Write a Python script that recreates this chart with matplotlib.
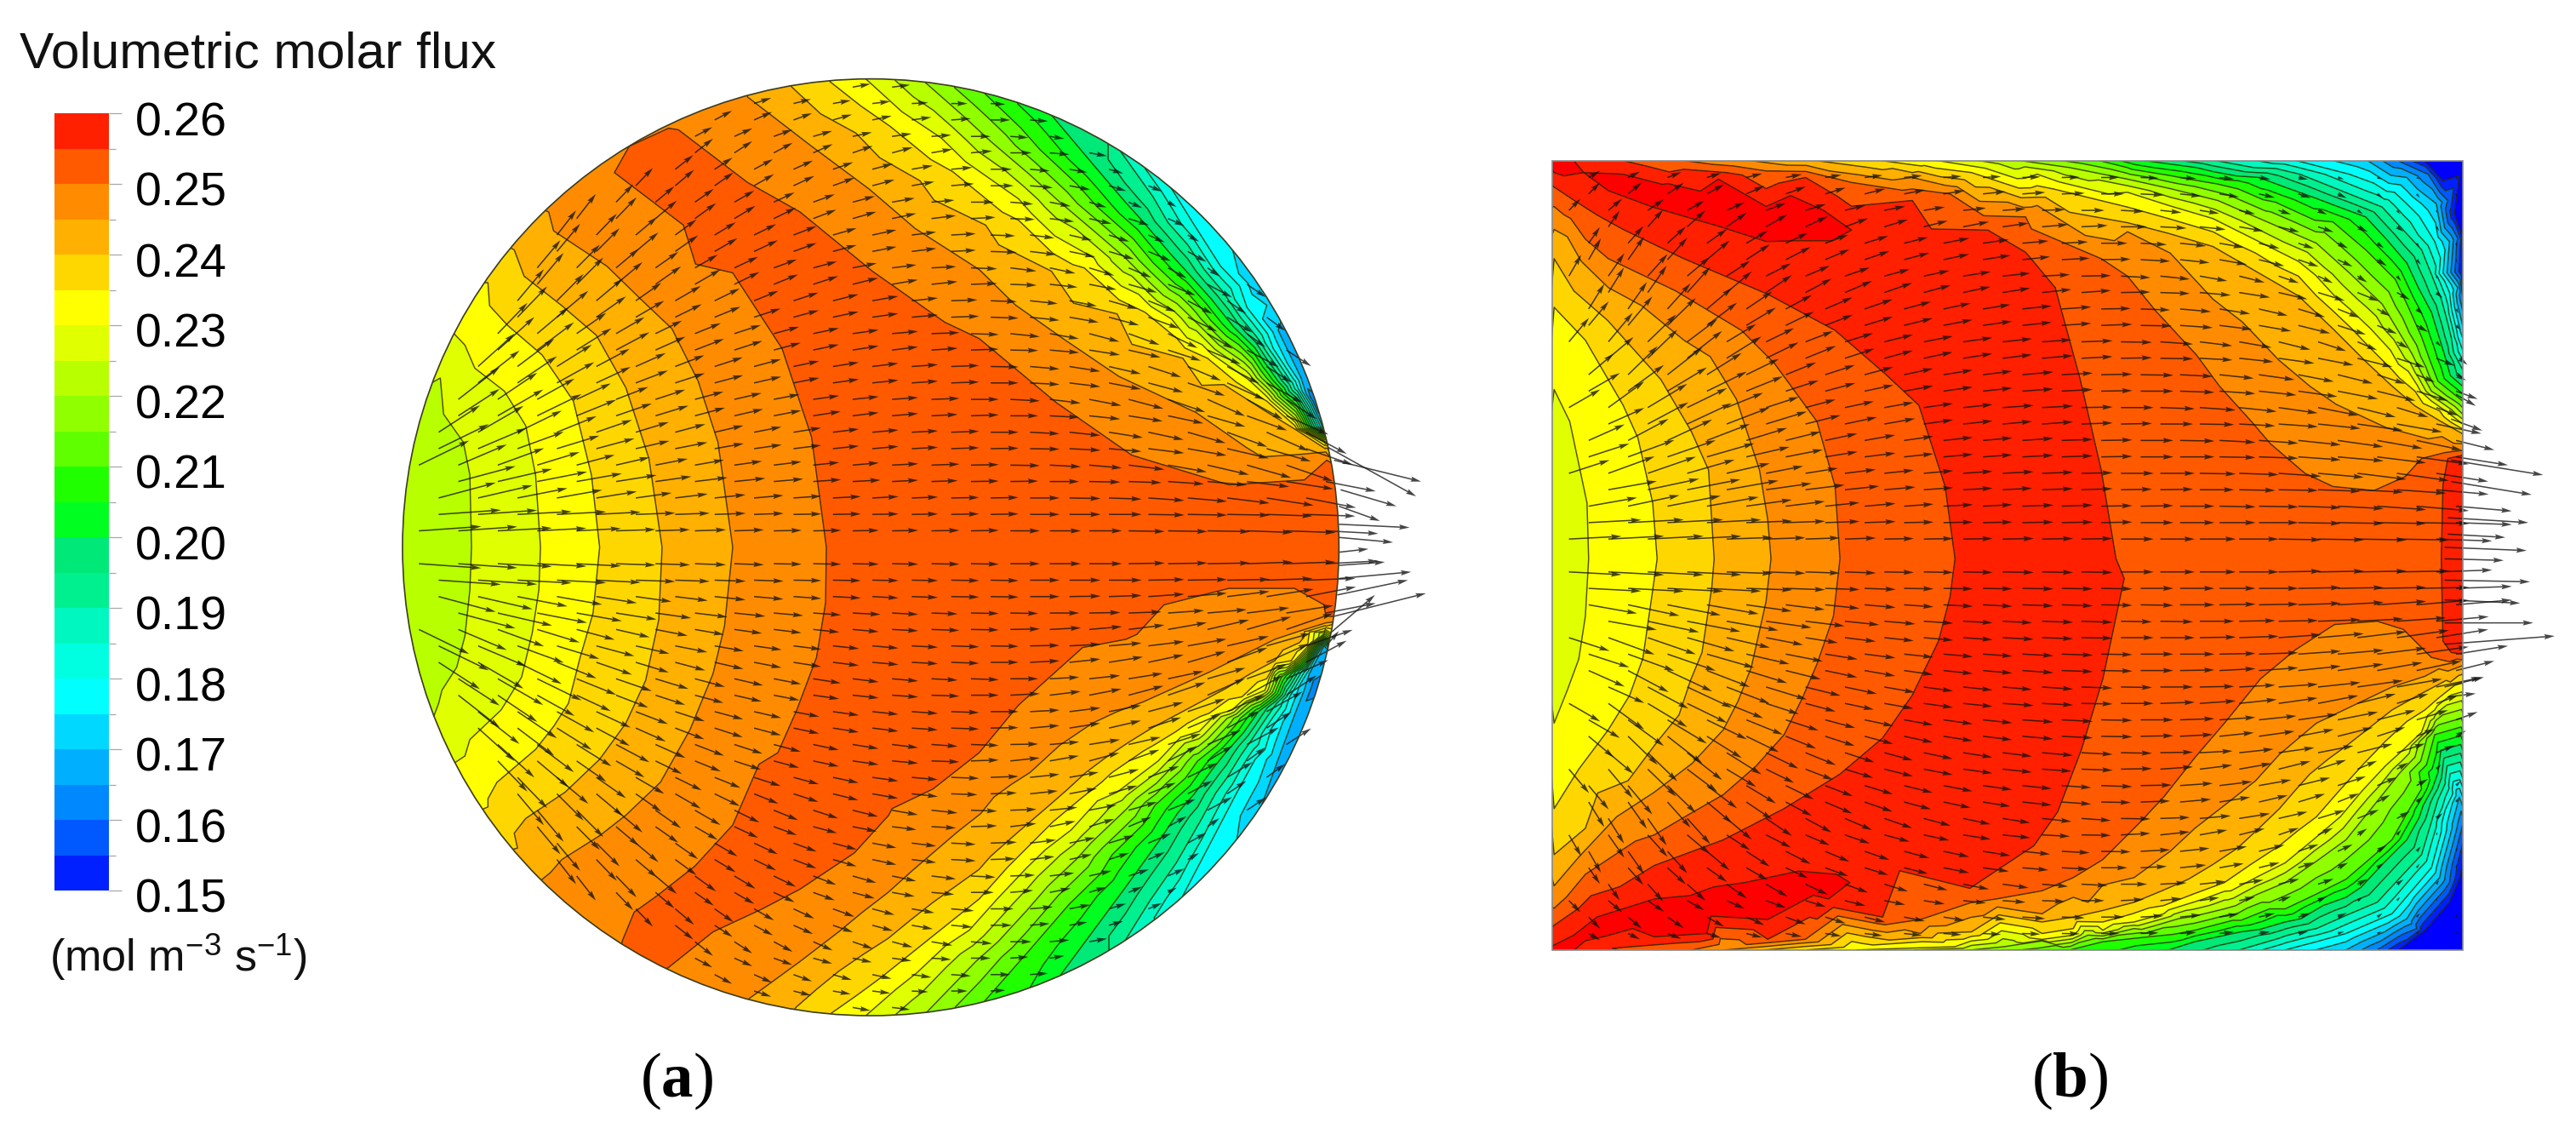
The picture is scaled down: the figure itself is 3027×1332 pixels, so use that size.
import numpy as np
import matplotlib as mpl
mpl.use('Agg')
mpl.rcParams['font.family'] = ['Liberation Sans', 'DejaVu Sans']
mpl.rcParams['mathtext.fontset'] = 'custom'
mpl.rcParams['mathtext.bf'] = 'Liberation Serif:bold'
mpl.rcParams['mathtext.rm'] = 'Liberation Sans'
mpl.rcParams['mathtext.default'] = 'regular'
import matplotlib.pyplot as plt
import matplotlib.tri as mtri
import matplotlib.transforms as mtrans
from matplotlib.colors import ListedColormap
from matplotlib.patches import Circle, Rectangle

# band edges and colours
BAND_EDGES = [0.15, 0.155, 0.16, 0.165, 0.17, 0.175, 0.18, 0.185, 0.19, 0.195, 0.20, 0.205,
              0.21, 0.215, 0.22, 0.225, 0.23, 0.235, 0.24, 0.245, 0.25, 0.255, 0.26]
BAND_COLORS = ['#0020ff', '#0058ff', '#0088ff', '#00b0ff', '#00d8ff', '#00ffff', '#00ffe0', '#00f8c0',
               '#00f090', '#00e878', '#00ff20', '#20ff00', '#60ff00', '#90ff00', '#b8ff00', '#e0ff00',
               '#ffff00', '#ffd700', '#ffb000', '#ff8c00', '#ff5a00', '#ff2000']
LOW_COLOR = '#0000ff'
HIGH_COLOR = '#ff0000'
TICK_VALUES = [0.15, 0.16, 0.17, 0.18, 0.19, 0.20, 0.21, 0.22, 0.23, 0.24, 0.25, 0.26]

# panel (a): flux, (x, y) in picture units
A16 = [(800, 243), (802, 418)]
A17 = [(765, 171), (778, 201), (792, 230), (805, 259.5), (768, 490), (778, 462), (788, 435), (797, 410), (806, 393)]
A18 = [(712, 113), (727, 137), (743, 162), (759, 187), (775, 212), (790, 236), (806, 261.5), (720, 545), (731, 524),
       (742, 503), (753, 482), (764, 462), (774, 443), (785, 424), (795, 408), (806, 391.5)]
A19 = [(682, 92), (702, 120), (723, 149), (744, 177), (765, 205), (785, 234), (806, 263), (685, 572), (700, 548),
       (716, 525), (731, 499), (747, 473), (762, 450), (777, 428), (791, 408), (806, 390)]
A20 = [(640, 70), (667, 102), (695, 134), (723, 166), (751, 199), (778, 232), (806, 264.5), (645, 594), (665, 567),
       (685, 540), (706, 511), (727, 483), (746, 458), (766, 433), (786, 410), (806, 388.5)]
A21 = [(599, 56.5), (633, 91), (668, 126), (702, 160), (737, 195), (771, 230), (806, 266), (599, 609.5), (625, 580),
       (651, 550), (677, 520), (703, 490), (729, 463), (755, 437), (780, 412), (806, 387)]
A22 = [(563, 50), (603, 86), (644, 122), (685, 157), (725, 193), (765, 230), (806, 267.5), (564, 616), (594, 585),
       (625, 554), (655, 523), (686, 492), (716, 464), (747, 437), (776, 411), (806, 385.5)]
A225 = [(287, 333), (286, 289), (282, 269), (270, 252), (268, 230), (286, 359), (283, 387), (278, 406), (269, 420),
        (267, 428), (264, 436)]
A23 = [(329, 333), (326, 289), (320, 259), (307, 238), (289, 224), (283, 210), (283, 194), (328, 359), (324, 385),
       (317.5, 412), (305, 432), (286, 450), (283, 460), (285, 476), (527, 48), (573, 84), (620, 121), (666, 157),
       (713, 194), (760, 231), (806, 269), (527, 618), (558, 592), (590, 566), (607, 547), (625, 528), (652, 505),
       (680, 482), (705, 463), (730, 445), (750, 432), (770, 420), (788, 402), (806, 384)]
A235 = [(365, 333), (360, 289), (349, 244), (330, 216), (309, 198), (298, 186), (297, 172), (361, 373), (353, 400.5),
        (346, 428), (337, 442), (326, 456), (302.5, 476), (297, 486), (297, 491), (505, 49.5), (542, 77), (580, 104.5),
        (620, 134), (660, 163), (697, 190), (735, 218), (771, 244), (807, 271), (506, 616.5), (521, 606), (536, 595),
        (551, 583), (566, 571), (581, 559), (596, 547), (605, 537), (613, 528), (627, 514), (641, 500), (659, 485),
        (677, 470), (696, 457), (716, 445), (736, 434), (756, 424), (771, 413), (786, 402), (796, 392), (807, 382)]
A24 = [(403, 333), (395, 279), (381, 236), (363, 204), (342, 186), (319, 168), (313, 152), (401, 377), (393, 414),
       (381, 440), (365, 462), (344, 482), (320, 498), (313, 507), (315, 516), (482, 53), (521, 81), (560, 110),
       (600, 137), (640, 165), (680, 191), (720, 218), (745, 234), (770, 250), (788, 261), (807, 272.5), (485, 612.5),
       (497, 602), (510.5, 591), (525, 581), (540.6, 571), (554, 560), (568, 549), (582, 539), (596, 529), (603, 521),
       (620, 506), (637, 491.5), (649, 481), (661, 470), (673, 461), (686.5, 452), (701, 443), (716, 435), (731, 427),
       (746, 419), (761, 410), (776, 402), (791, 391), (807, 381)]
A245 = [(446, 333), (437, 269), (425, 232), (409, 200), (390, 182), (369.5, 162), (337, 140.5), (334, 129), (455, 59),
        (494, 89), (529, 115), (557, 139), (596, 164), (647, 206), (681, 229), (728, 251), (807, 275), (441, 381),
        (434, 410), (420, 444), (402, 476), (381, 496), (365, 508.5), (342, 523), (335, 531), (335, 537), (456, 607.6),
        (487, 585), (510.5, 567), (525, 555), (540.6, 543), (555, 530), (569, 518), (583, 506), (597, 495), (605, 485),
        (616, 477), (627, 470), (645, 453.5), (665, 440), (680, 433), (696, 427), (716, 418), (736, 409), (756, 399),
        (776, 389), (791, 384), (807, 379)]
A25 = [(503, 333), (494, 266), (476, 212), (446, 166), (416, 137), (374, 105), (383, 89), (407, 78), (413, 79),
       (455, 111), (487, 129), (531, 165), (575, 196), (596, 206), (643, 245), (689, 277), (748, 295), (794, 292),
       (805.7, 288.7), (807.6, 280), (502.5, 367), (497, 400), (485, 432), (473.5, 458), (462, 465), (464, 480),
       (446, 502), (423, 527), (400, 545), (386, 555), (379, 572), (406.5, 589), (434, 567), (464, 553), (487, 541),
       (520, 519), (541, 496), (543, 492), (568, 480), (596, 458), (620, 429), (659, 394), (708.5, 368), (748, 358),
       (788, 358), (806, 368), (807, 375)]
A2525 = [(530, 333), (580, 333), (650, 333), (720, 333), (790, 333), (540, 260), (600, 280), (680, 300), (760, 318),
         (540, 400), (600, 390), (680, 370), (760, 345), (480, 200), (440, 150), (410, 110), (500, 450), (450, 520),
         (420, 560), (520, 300), (520, 370), (825, 333)]
A2235 = [(265, 333)]
A_FIELD = {0.16: A16, 0.17: A17, 0.18: A18, 0.19: A19, 0.20: A20, 0.21: A21, 0.22: A22, 0.225: A225, 0.23: A23,
           0.235: A235, 0.24: A24, 0.245: A245, 0.25: A25, 0.2525: A2525, 0.2235: A2235}
# flux just outside the rim
A_RIM_ANGLE = [0, 8, 12, 15, 30, 45, 60, 75, 90, 105, 120, 135, 150, 165, 180, 195, 210, 225, 240, 255, 270, 285,
               300, 315, 330, 345, 348, 352]
A_RIM_VALUE = [0.252, 0.251, 0.22, 0.16, 0.168, 0.176, 0.192, 0.208, 0.23, 0.245, 0.2495, 0.245, 0.232, 0.2232,
               0.2225, 0.2225, 0.232, 0.245, 0.2505, 0.245, 0.2285, 0.208, 0.193, 0.178, 0.168, 0.158, 0.22, 0.251]

# panel (b): same kind of reading
B15 = [(1475, 97), (1487, 110), (1494, 130), (1499, 165), (1499, 525), (1491, 549), (1476, 566), (1460, 578)]
B16 = [(1458, 97), (1478, 106), (1490, 122), (1496, 145), (1499, 180), (1499, 502), (1491, 537), (1471, 565), (1447, 578)]
B17 = [(1440, 97), (1465, 108), (1483, 124), (1491, 147), (1496, 175), (1499, 198), (1497, 485), (1485, 534),
       (1465, 559), (1428, 578)]
B18 = [(1395, 97), (1430, 106), (1465, 124), (1482, 147), (1491, 178), (1496, 205), (1499, 213), (1493, 483),
       (1486, 506), (1480, 528), (1468, 542), (1456, 556), (1442, 562), (1428, 568), (1410, 573), (1391, 578)]
B19 = [(1345, 97), (1372, 102), (1400, 106), (1425, 116), (1450, 126), (1462, 139), (1474, 152), (1480, 167),
       (1486, 182), (1489, 193), (1492, 205), (1499, 225), (1487, 480), (1480, 500), (1474, 520), (1460, 535),
       (1447, 549), (1428, 557), (1410, 565), (1387, 571), (1363, 578)]
B20 = [(1300, 97), (1337, 102), (1375, 108), (1408, 120), (1440, 132), (1453, 146), (1465, 160), (1472, 175),
       (1480, 190), (1484, 203), (1488, 216), (1499, 235), (1484, 470), (1475, 490), (1465, 511), (1451, 525),
       (1437, 540), (1414, 551), (1391, 561), (1364, 567), (1336, 573), (1320, 578)]
B21 = [(1275, 97), (1295, 102), (1322, 107), (1350, 112), (1385, 123), (1420, 135), (1440, 152), (1458, 170),
       (1466, 187), (1474, 205), (1479, 219), (1484, 232), (1499, 244), (1482, 447), (1474, 480), (1465, 495),
       (1456, 511), (1442, 523), (1428, 535), (1410, 544), (1391, 553), (1364, 560), (1336, 566), (1308, 570),
       (1280, 573), (1260, 578)]
B22 = [(1225, 97), (1260, 102), (1295, 109), (1322, 115), (1350, 122), (1380, 135), (1410, 148), (1430, 166),
       (1450, 185), (1459, 200), (1468, 215), (1474, 227), (1480, 238), (1499, 252), (1481, 442), (1461, 470),
       (1445, 490), (1428, 511), (1410, 524), (1391, 537), (1372, 545), (1354, 553), (1326, 559), (1299, 565),
       (1271, 569), (1243, 572.5), (1220, 576), (1200, 578)]
B23 = [(967, 340), (966, 306), (955.5, 256.5), (946, 237), (965, 375), (961, 401), (954, 420), (946, 440), (1175, 97),
       (1240, 106), (1295, 117), (1320, 125), (1347, 133), (1373, 146), (1399, 159), (1421, 180), (1443, 200),
       (1455, 213), (1466, 226), (1480, 244), (1490, 251), (1499, 258), (1482, 432), (1474, 445.5), (1463, 456),
       (1452, 466), (1438, 481), (1424.5, 497), (1408, 511), (1391, 525), (1375, 533), (1358, 542), (1335, 549),
       (1317, 556), (1299, 561), (1280, 566), (1262, 569), (1243, 571.6), (1190, 576), (1130, 578)]
B235 = [(1008.7, 340), (1006, 306), (997, 266.5), (988, 246.6), (965, 207), (946, 187), (1005, 366), (1000, 400.6),
        (992, 423), (979, 444), (961, 468), (946, 492), (1140, 97), (1200, 105), (1250, 115), (1295, 126), (1320, 133),
        (1347, 141), (1373, 154), (1399, 168), (1421, 190), (1443, 212), (1456, 225), (1470, 238), (1485, 250),
        (1499, 261), (1484, 425), (1476, 432), (1465, 439), (1452, 451), (1439, 464.5), (1424, 481), (1410, 497),
        (1398, 506), (1387.5, 514.6), (1370, 526), (1354, 537), (1335, 544), (1317, 551), (1298, 556), (1280, 561),
        (1262, 565), (1243, 568), (1170, 573), (1100, 578)]
B24 = [(1043.4, 340), (1040, 286), (1029.5, 262.5), (1011, 231), (978.6, 195), (958, 177), (946, 157.4), (1042, 357),
       (1036, 397), (1029, 414), (1022, 435), (1009, 451), (991, 475), (965, 504), (946, 520), (1100, 97), (1164, 105),
       (1240, 120), (1295, 135.5), (1320, 142), (1347, 150), (1373, 165), (1399, 180), (1420, 200), (1440, 220),
       (1455, 234), (1470, 247), (1485, 256), (1499, 264), (1489, 414), (1472, 423), (1456, 432), (1442, 443),
       (1428, 454), (1417, 462), (1406, 471), (1397, 481), (1387.5, 492), (1375, 504), (1362, 516), (1347, 526),
       (1332, 535), (1316, 542), (1299, 549), (1280, 554), (1262, 558), (1243, 561), (1200, 567), (1150, 572),
       (1075, 578)]
B245 = [(1078, 340), (1076, 316), (1071, 286), (1057, 243), (1041, 217), (1025, 207), (979, 175), (962.5, 159),
        (954, 144), (946, 139.6), (1075, 366), (1066, 406), (1058, 426.5), (1049, 444), (1030, 464.5), (1007, 482),
        (984, 497), (961, 521.5), (946, 539), (1060, 97), (1164, 108), (1240, 125), (1295, 141), (1321, 154),
        (1347, 182), (1365, 196), (1387, 219), (1406, 235), (1422, 246), (1452, 260), (1478, 267), (1499, 270),
        (1499, 405), (1456, 418), (1410, 440), (1387.5, 459), (1373, 475), (1354, 490), (1336, 504), (1321, 518),
        (1299, 534), (1271, 549), (1243, 556), (1169, 568), (1050, 578)]
B25 = [(1120, 340), (1117, 296), (1106, 256.5), (1080, 221), (1060, 201), (1020, 177), (979, 157.4), (965, 145.5),
       (946, 125.7), (1116, 375), (1106, 404), (1097, 425), (1086, 447), (1069, 466), (1049, 483.5), (1025.5, 497),
       (1007, 508), (965, 532), (946, 552.6), (1020, 97), (1075, 104), (1127, 111), (1187, 118), (1233, 132),
       (1279, 157.4), (1295, 168), (1312, 189), (1337, 216), (1351, 235), (1370, 256), (1382, 270), (1403, 288),
       (1420, 296), (1445, 298.5), (1464, 290), (1474, 279), (1488, 275.4), (1499, 274), (1499, 401.5), (1480, 400),
       (1463, 383), (1447, 378), (1421, 380), (1397, 395.5), (1376, 413), (1354, 440), (1336, 461), (1317, 485),
       (1302, 501), (1280, 523), (1262, 534), (1243, 542), (1215, 547), (1169, 559.5), (1099, 571.5), (1030, 578)]
B2525 = [(1350, 340), (1420, 340), (1470, 340), (1340, 290), (1400, 325), (1330, 400), (1400, 355), (1300, 340)]
B255 = [(1190, 340), (1184, 296), (1168, 246.6), (1147, 227), (1117, 201), (1076, 179), (1025, 157.4), (988, 139.6),
        (958, 121.8), (946, 113.8), (1187, 363), (1180, 390), (1164, 423), (1146, 449), (1120, 471), (1086, 492),
        (1049, 511), (1007, 526.6), (961, 552.6), (946, 563), (985, 97), (1025, 103), (1099, 108), (1164, 122),
        (1210, 140), (1233, 153.5), (1251, 175), (1266, 230), (1279, 286), (1288, 340), (1293, 352), (1280, 413),
        (1267, 456), (1252.5, 494), (1238, 514.6), (1199, 540.5), (1146, 558), (1076, 571.5), (981.5, 577),
        (1499, 277), (1490, 279), (1487, 295), (1486, 340), (1487, 390), (1492, 397), (1499, 398)]
B2575 = [(1240, 340), (1240, 250), (1200, 200), (1240, 420), (1180, 480), (1140, 170), (1100, 500), (1220, 300),
         (1220, 380), (1200, 450), (1150, 515), (1170, 150), (1493, 340), (1502, 340)]
B26 = [(959, 99), (964, 105), (988, 106), (1046, 109), (1090, 119), (1110, 128), (1127, 140), (1115, 146.5),
       (1092, 146.5), (1046, 137.6), (1006, 126), (979, 116), (952, 107), (946, 105), (958, 569), (972, 558),
       (1007, 547), (1062, 537), (1095, 530), (1118, 532), (1126, 537), (1113, 547), (1076, 559.5), (1039, 568),
       (1007, 570), (965, 572.4)]
B2625 = [(1040, 123), (1075, 131), (1105, 136), (1010, 116), (980, 110), (1040, 554), (1000, 559), (1075, 546),
         (1105, 538), (975, 566), (940, 92), (940, 584)]
B14 = [(1504, 92), (1504, 584), (1504, 150), (1504, 530)]
B2265 = [(945, 340), (945, 300), (945, 380), (938, 340)]
B_FIELD = {0.14: B14, 0.15: B15, 0.16: B16, 0.17: B17, 0.18: B18, 0.19: B19, 0.20: B20, 0.21: B21, 0.22: B22,
           0.2265: B2265, 0.23: B23, 0.235: B235, 0.24: B24, 0.245: B245, 0.25: B25, 0.2525: B2525, 0.255: B255,
           0.2575: B2575, 0.26: B26, 0.2625: B2625}

# arrow angle (deg, up is positive) and length on rows above the mid line, lower half is the mirror
A_ANGLE = [
    [4, 4, 3, 3, 3, 2, 2, 2, 2, 1, 1, 1, 1, 1, 1, 0, 0, 0, -1, -1, -1, -2, -2, -3],
    [15, 13, 11, 10, 9, 8, 7, 6, 5, 4, 3, 3, 2, 1, 1, 0, -1, -2, -4, -5, -7, -9, -11, -14],
    [26, 23, 20, 17, 15, 13, 11, 10, 8, 7, 6, 5, 3, 2, 1, -1, -3, -5, -7, -10, -13, -16, -19, -23],
    [33, 30, 26, 22, 19, 17, 15, 13, 11, 9, 7, 5, 3, 2, 0, -3, -6, -9, -12, -16, -20, -24, -28, -34],
    [0, 38, 34, 29, 25, 21, 18, 15, 13, 11, 8, 6, 4, 2, 0, -3, -7, -11, -15, -19, -24, -29, -33, -38],
    [0, 42, 37, 32, 28, 24, 21, 18, 15, 12, 9, 7, 4, 2, -1, -5, -9, -13, -18, -23, -28, -33, -38, 0],
    [0, 0, 46, 40, 35, 30, 26, 22, 18, 15, 12, 8, 5, 2, -2, -6, -10, -15, -20, -26, -31, -36, -40, 0],
    [0, 0, 50, 45, 40, 35, 30, 26, 22, 18, 14, 10, 6, 2, -2, -6, -11, -16, -22, -28, -34, -39, 0, 0],
    [0, 0, 0, 50, 45, 40, 35, 30, 25, 20, 15, 11, 7, 3, -2, -7, -12, -17, -23, -29, -35, -40, 0, 0],
    [0, 0, 0, 52, 46, 40, 36, 31, 26, 21, 16, 12, 7, 3, -2, -7, -13, -18, -24, -30, -35, -40, 0, 0],
    [0, 0, 0, 0, 0, 46, 40, 35, 30, 25, 20, 15, 10, 5, 0, -5, -11, -17, -23, -29, -36, 0, 0, 0],
    [0, 0, 0, 0, 0, 0, 38, 33, 28, 24, 19, 15, 10, 5, 0, -5, -10, -16, -22, -28, -34, 0, 0, 0],
    [0, 0, 0, 0, 0, 0, 33, 28, 24, 20, 16, 12, 8, 4, 0, -4, -9, -14, -20, 0, 0, 0, 0, 0],
    [0, 0, 0, 0, 0, 0, 0, 0, 18, 14, 10, 7, 3, 0, -3, -8, 0, 0, 0, 0, 0, 0, 0, 0]]
A_LENGTH = [
    [38, 36, 33, 30, 27, 24, 21, 19, 18, 17, 17, 16, 16, 17, 17, 18, 19, 20, 22, 24, 26, 28, 30, 32],
    [36, 34, 31, 28, 25, 22, 20, 19, 18, 17, 17, 16, 16, 17, 17, 18, 19, 20, 22, 24, 26, 29, 31, 33],
    [34, 32, 30, 27, 24, 21, 20, 18, 17, 17, 16, 16, 16, 17, 17, 18, 19, 20, 22, 24, 26, 28, 30, 30],
    [30, 32, 30, 26, 23, 21, 19, 18, 17, 17, 16, 16, 16, 17, 17, 18, 19, 21, 22, 24, 26, 28, 28, 20],
    [0, 32, 29, 26, 23, 21, 19, 18, 17, 16, 16, 16, 16, 17, 17, 18, 19, 20, 22, 24, 25, 25, 22, 12],
    [0, 30, 28, 25, 23, 20, 19, 18, 17, 16, 16, 16, 16, 17, 17, 18, 19, 20, 21, 22, 22, 18, 10, 0],
    [0, 0, 26, 25, 22, 20, 18, 17, 17, 16, 16, 16, 16, 17, 17, 18, 18, 19, 20, 20, 18, 14, 8, 0],
    [0, 0, 25, 23, 21, 19, 18, 17, 16, 16, 16, 16, 16, 16, 16, 17, 17, 18, 18, 17, 14, 8, 0, 0],
    [0, 0, 0, 22, 20, 18, 17, 16, 16, 15, 15, 15, 15, 15, 16, 16, 16, 16, 15, 13, 9, 5, 0, 0],
    [0, 0, 0, 19, 18, 17, 16, 15, 15, 15, 15, 15, 15, 15, 15, 15, 14, 13, 11, 8, 5, 0, 0, 0],
    [0, 0, 0, 0, 0, 15, 15, 14, 14, 14, 14, 14, 14, 14, 14, 14, 13, 11, 9, 6, 0, 0, 0, 0],
    [0, 0, 0, 0, 0, 0, 14, 13, 13, 13, 13, 13, 13, 13, 13, 12, 11, 9, 7, 5, 0, 0, 0, 0],
    [0, 0, 0, 0, 0, 0, 12, 12, 12, 12, 12, 12, 12, 12, 12, 11, 9, 8, 6, 0, 0, 0, 0, 0],
    [0, 0, 0, 0, 0, 0, 0, 0, 11, 11, 11, 11, 10, 10, 9, 7, 0, 0, 0, 0, 0, 0, 0, 0]]
B_ANGLE = [
    [3, 3, 3, 3, 2, 2, 2, 2, 1, 1, 1, 1, 1, 1, 0, 0, 0, 0, -1, -1, -1, -1, -2],
    [10, 12, 11, 10, 8, 7, 6, 5, 4, 3, 3, 2, 2, 1, 1, 0, -1, -1, -2, -3, -4, -5, -5],
    [18, 20, 19, 16, 13, 11, 9, 7, 6, 5, 4, 3, 2, 1, 0, 0, -1, -2, -4, -5, -7, -8, -9],
    [24, 28, 25, 21, 17, 14, 12, 10, 8, 6, 5, 4, 2, 1, 0, -1, -3, -4, -6, -8, -10, -12, -14],
    [30, 36, 31, 26, 22, 18, 15, 12, 10, 8, 6, 4, 3, 1, 0, -2, -4, -6, -8, -11, -14, -17, -20],
    [40, 44, 38, 32, 26, 22, 18, 15, 12, 9, 7, 5, 3, 1, -1, -3, -6, -8, -11, -14, -18, -22, -30],
    [50, 50, 44, 37, 31, 26, 21, 17, 14, 11, 8, 6, 4, 2, -1, -4, -7, -10, -14, -18, -23, -30, -45],
    [58, 55, 48, 40, 34, 28, 23, 19, 15, 12, 9, 6, 4, 1, -2, -5, -9, -13, -17, -22, -29, -40, -60],
    [60, 55, 48, 40, 33, 27, 23, 19, 15, 12, 9, 6, 3, 1, -3, -6, -10, -14, -19, -25, -33, -50, -70],
    [55, 48, 42, 35, 30, 25, 20, 17, 14, 11, 8, 5, 3, 0, -3, -6, -10, -14, -19, -26, -36, -55, -75],
    [45, 40, 34, 29, 24, 20, 17, 14, 11, 9, 6, 4, 2, 0, -3, -6, -9, -13, -18, -25, -35, -50, -70],
    [30, 26, 21, 17, 14, 11, 9, 7, 6, 4, 3, 2, 1, 0, -2, -4, -6, -9, -12, -16, -22, -30, -50]]
B_LENGTH = [
    [32, 34, 34, 33, 28, 24, 21, 19, 18, 18, 18, 19, 19, 19, 20, 21, 22, 24, 26, 28, 30, 32, 34],
    [30, 32, 33, 32, 28, 24, 21, 19, 18, 18, 18, 19, 19, 19, 20, 21, 22, 24, 26, 28, 30, 32, 34],
    [26, 30, 31, 30, 27, 23, 20, 19, 18, 18, 18, 19, 19, 19, 20, 21, 22, 24, 26, 28, 30, 32, 32],
    [24, 28, 30, 28, 26, 22, 20, 19, 18, 18, 18, 19, 19, 19, 20, 21, 22, 24, 26, 28, 28, 28, 24],
    [22, 27, 28, 27, 24, 21, 19, 18, 18, 18, 18, 19, 19, 19, 20, 21, 22, 23, 24, 25, 24, 20, 14],
    [20, 25, 27, 25, 22, 20, 19, 18, 18, 18, 18, 19, 19, 19, 20, 20, 21, 22, 22, 22, 18, 12, 7],
    [19, 23, 24, 23, 21, 19, 18, 18, 18, 18, 18, 18, 18, 19, 19, 20, 20, 20, 20, 18, 13, 8, 4],
    [18, 20, 21, 20, 19, 18, 18, 18, 17, 17, 17, 18, 18, 18, 18, 19, 19, 18, 17, 14, 9, 5, 3],
    [15, 17, 18, 18, 17, 17, 16, 16, 16, 16, 17, 17, 17, 18, 18, 18, 17, 16, 13, 10, 7, 4, 2],
    [12, 14, 15, 15, 15, 15, 15, 15, 15, 16, 16, 16, 16, 16, 16, 16, 15, 13, 10, 7, 5, 3, 2],
    [10, 11, 12, 12, 12, 13, 13, 13, 13, 13, 14, 14, 14, 14, 14, 13, 12, 10, 8, 6, 4, 3, 2],
    [8, 8, 9, 9, 10, 10, 10, 11, 11, 11, 11, 11, 11, 11, 11, 10, 9, 7, 6, 4, 3, 2, 2]]

# arrows leaving through the outlet: tail x, tail y, dx, dy
OUT_A_X = [812, 808, 816, 815, 815, 815, 815, 815, 815, 814, 812, 810, 808]
OUT_A_Y = [280, 272, 298, 308, 319, 327, 336, 344, 352, 362, 375, 385, 392]
OUT_A_U = [53, 54, 34, 25, 43, 33, 18, 28, 44, 43, 56, 27, 7]
OUT_A_V = [13, 30, 10, 9, 2, 3, -2, -2, -4, -9, -14, -23, -8]
OUT_B_X = [1492, 1492, 1490, 1490, 1488, 1488, 1488, 1488, 1488, 1488, 1488, 1490, 1492, 1495, 1497]
OUT_B_Y = [280, 293, 315, 325, 333, 340, 353, 365, 379, 392, 418, 424, 255, 240, 218]
OUT_B_U = [56, 49, 49, 35, 50, 36, 52, 46, 54, 67, 24, 17, 19, 12, 5]
OUT_B_V = [9, 8, 3, 2, 2, 1, 1, 2, 0, -5, -6, -2, 7, 7, 4]


def flatten(field):
    xs, ys, vs = [], [], []
    for val in field:
        for p in field[val]:
            xs.append(p[0])
            ys.append(p[1])
            vs.append(val)
    return xs, ys, vs


def grid_arrows(angle, length, x0, step_x, y_mid, y_first, step_y):
    angle = np.array(angle, dtype=float)
    length = np.array(length, dtype=float)
    rows, cols = angle.shape
    X = np.zeros((rows, cols))
    Y = np.zeros((rows, cols))
    for k in range(rows):
        X[k] = x0 + step_x*np.arange(cols) + (step_x/2. if k % 2 else 0.)
        Y[k] = y_first + step_y*k
    U = length*np.cos(np.radians(angle))
    V = length*np.sin(np.radians(angle))
    # upper half and its mirror, y picture axis points down
    X = np.concatenate([X.ravel(), X.ravel()])
    Y2 = np.concatenate([y_mid - Y.ravel(), y_mid + Y.ravel()])
    U = np.concatenate([U.ravel(), U.ravel()])
    V = np.concatenate([-V.ravel(), V.ravel()])
    keep = U**2 + V**2 > 0
    return X[keep], Y2[keep], U[keep], V[keep]


def draw_field(ax, x, y, v, clip):
    tri = mtri.Triangulation(x, y)
    cf = ax.tricontourf(tri, v, levels=fill_levels, colors=fill_colors, zorder=1)
    cf.set_clip_path(clip)
    cl = ax.tricontour(tri, v, levels=BAND_EDGES, colors='#262600', linewidths=1.05, alpha=0.8, zorder=2)
    cl.set_clip_path(clip)


fig = plt.figure(figsize=(30.27, 13.32), dpi=100)
ax = fig.add_axes([0, 0, 1, 1])
ax.set_xlim(0, 1568)
ax.set_ylim(690, 0)
ax.axis('off')

fill_levels = [0.0] + BAND_EDGES + [0.5]
fill_colors = [LOW_COLOR] + BAND_COLORS + [HIGH_COLOR]

# panel (a)
ax_x, ax_y, ax_v = flatten(A_FIELD)
rim = np.radians(A_RIM_ANGLE)
ax_x = np.array(ax_x + list(530 + 298*np.cos(rim)))
ax_y = np.array(ax_y + list(333 - 298*np.sin(rim)))
ax_v = np.array(ax_v + A_RIM_VALUE)
clip_a = Circle((530, 333), 285, transform=ax.transData, fc='none', ec='#3c3c20', lw=1.2, zorder=4)
ax.add_patch(clip_a)
draw_field(ax, ax_x, ax_y, ax_v, clip_a)

# panel (b)
bx_x, bx_y, bx_v = flatten(B_FIELD)
clip_b = Rectangle((945, 98), 554, 480, transform=ax.transData, fc='none', ec='#8a8a8a', lw=1.2, zorder=4)
ax.add_patch(clip_b)
draw_field(ax, np.array(bx_x), np.array(bx_y), np.array(bx_v), clip_b)

# arrows, the same readings also serve the in-between rows
arrow_style = dict(angles='xy', scale_units='xy', scale=1, units='xy', width=0.8, headwidth=4, headlength=8,
                   headaxislength=7, color='#121212', alpha=0.78, zorder=3, pivot='tail')
for x0, y0 in [(255, 10), (267, 20)]:
    X, Y, U, V = grid_arrows(A_ANGLE, A_LENGTH, x0, 24, 333, y0, 20)
    inside = (X - 530)**2 + (Y - 333)**2 < 281**2
    ax.quiver(X[inside], Y[inside], U[inside], V[inside], **arrow_style)
ax.quiver(OUT_A_X, OUT_A_Y, OUT_A_U, OUT_A_V, **arrow_style)
for x0, y0 in [(955, 10), (967, 20)]:
    X, Y, U, V = grid_arrows(B_ANGLE, B_LENGTH, x0, 24, 338, y0, 20)
    inside = (X < 1497) & (Y > 100) & (Y < 576)
    ax.quiver(X[inside], Y[inside], U[inside], V[inside], **arrow_style)
ax.quiver(OUT_B_X, OUT_B_Y, OUT_B_U, OUT_B_V, **arrow_style)

# colour bar
cax = fig.add_axes([64/3027., 1 - 1046/1332., 64/3027., 913/1332.])
cax.pcolormesh([0, 1], BAND_EDGES, np.arange(len(BAND_COLORS)).reshape(-1, 1) + 0.5,
               cmap=ListedColormap(BAND_COLORS), vmin=0, vmax=len(BAND_COLORS))
cax.set_xticks([])
cax.yaxis.tick_right()
cax.set_ylim(0.15, 0.26)
cax.set_yticks(TICK_VALUES)
cax.set_yticklabels(['%.2f' % t for t in TICK_VALUES], fontsize=40, va='center')
cax.set_yticks(BAND_EDGES, minor=True)
cax.tick_params(axis='y', which='major', length=11, width=0.9, color='#a8a8a8', pad=11)
cax.tick_params(axis='y', which='minor', length=6, width=0.9, color='#a8a8a8')
shift = mtrans.ScaledTranslation(0, -12/100., fig.dpi_scale_trans)
for lab in cax.get_yticklabels():
    lab.set_transform(lab.get_transform() + shift)
for side in cax.spines:
    cax.spines[side].set_visible(False)

ax.text(12, 33, 'Volumetric molar flux', fontsize=43.5, va='center', ha='left', color='#111111')
ax.text(30, 582, '(mol m$^{-3}$ s$^{-1}$)', fontsize=37.5, va='center', ha='left', color='#111111')
ax.text(412, 658, r'$(\mathbf{a})$', fontsize=54, family='Liberation Serif', va='center', ha='center', color='black')
ax.text(1260, 658, r'$(\mathbf{b})$', fontsize=54, family='Liberation Serif', va='center', ha='center', color='black')

plt.savefig('out.png', dpi=100)
